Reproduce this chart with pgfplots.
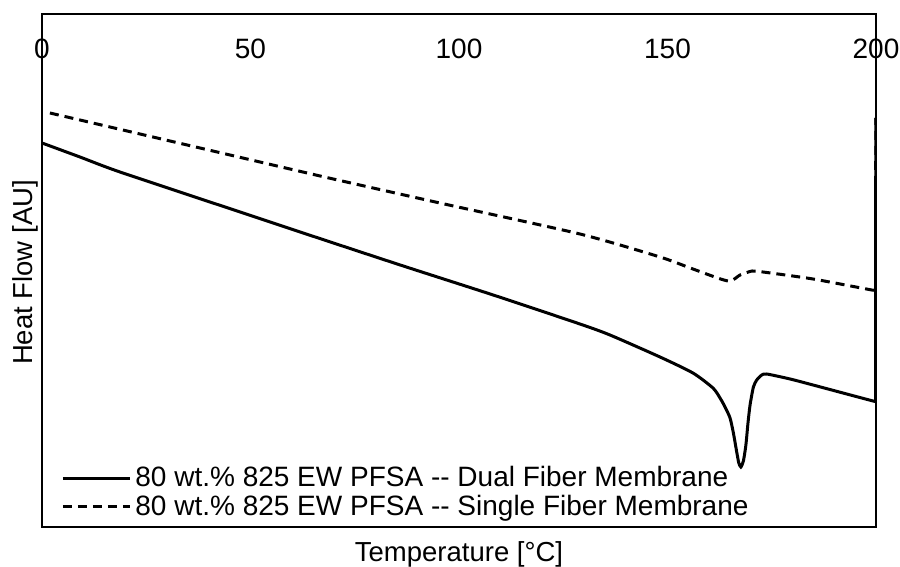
\documentclass[border=0pt]{standalone}
\usepackage{fontspec}
\setmainfont{Liberation Sans}
\usepackage{pgfplots}
\pgfplotsset{compat=1.18}
\begin{document}
\begin{tikzpicture}
\begin{axis}[
 width=417pt, height=256.5pt, scale only axis,
 xmin=0, xmax=200, ymin=0, ymax=513,
 axis line style={line width=1pt},
 xtick={0,50,100,150,200},
 ytick=\empty,
 xticklabel pos=upper,
 major tick length=0pt,
 /pgf/number format/assume math mode=true,
 xticklabel style={anchor=north, inner sep=0pt, yshift=-12.5pt, font=\fontsize{14}{16}\selectfont},
 xlabel={Temperature [°C]},
 ylabel={Heat Flow [AU]},
 label style={font=\fontsize{13.75}{16}\selectfont},
 xlabel style={at={(axis description cs:0.5,0)}, anchor=base, yshift=-17.5pt},
 ylabel style={at={(axis description cs:0,0.5)}, anchor=base, yshift=4.5pt, xshift=-1pt},
 legend style={at={(axis description cs:0,0)}, anchor=south west, xshift=6.5pt, yshift=0pt,
   draw=none, fill=none, font=\fontsize{14}{16}\selectfont, row sep=-1.3pt},
 legend cell align=left,
 legend image code/.code={\draw[#1] (0pt,0pt) -- (33.5pt,0pt);},
]
\addplot[black, line width=1.5pt, smooth, tension=0.4] coordinates {
(0,384) (9.1,370) (18.7,355) (47.5,315) (61.9,295) (85.9,262) (108.2,232) (129.0,203)
(136.2,192) (148.2,170) (156.1,154) (160.9,139) (162.6,129) (163.8,120)
(165.0,109) (165.8,94) (166.6,75) (167.1,64) (167.6,60) (168.2,66) (168.8,82) (169.3,104)
(169.8,122) (170.6,140) (171.4,147) (172.6,152) (173.8,153) (179.4,148) (184.9,142)
(199.3,126) (199.9,126)
};
\addlegendentry{80 wt.\% 825 EW PFSA -{}- Dual Fiber Membrane}
\addplot[black, line width=1.5pt, dash pattern=on 4.5pt off 3pt, smooth, tension=0.4] coordinates {
(1.9,414) (37.9,379) (66.7,351) (95.4,324) (129.0,293) (148.2,270) (156.1,258)
(164.5,246) (167.4,252) (170.3,256) (172.9,255) (184.9,248) (199.0,237) (199.9,237)
};
\addlegendentry{80 wt.\% 825 EW PFSA -{}- Single Fiber Membrane}
\addplot[black, line width=1.5pt, forget plot] coordinates {(199.9,126) (199.95,409)};
\addplot[black, line width=1.5pt, dash pattern=on 4.5pt off 3pt, forget plot] coordinates {(199.9,237) (199.95,409)};
\end{axis}
\pgfresetboundingbox
\path (current axis.south west) ++(-21pt,-20pt) rectangle ++(450pt,283.5pt);
\end{tikzpicture}
\end{document}
